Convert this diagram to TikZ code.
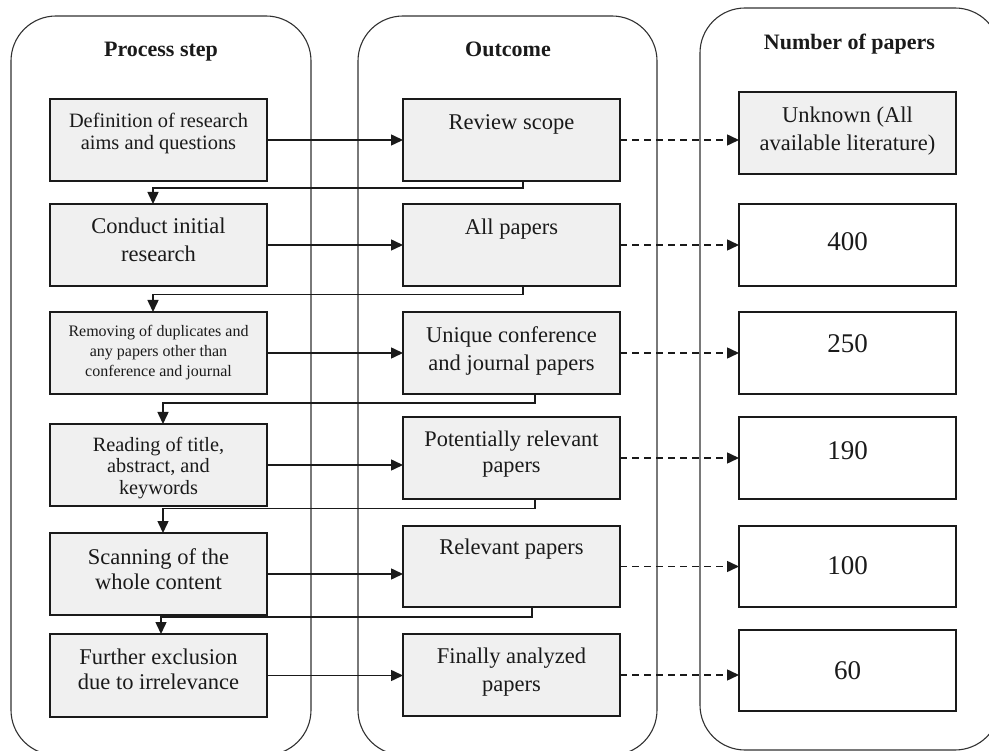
\documentclass[tikz,border=0pt]{standalone}
\usepackage{fontspec}
\setmainfont{Liberation Serif}
\usetikzlibrary{arrows.meta}
\definecolor{boxgray}{HTML}{F0F0F0}
\definecolor{ink}{HTML}{1A1A1A}
\begin{document}
\begin{tikzpicture}[x=1pt,y=-1pt,
  colbox/.style={draw=ink!90,line width=1.1pt,rounded corners=45pt,minimum width=#1,inner sep=0pt,outer sep=0pt,anchor=north west},
  bx/.style={draw=ink,line width=1.8pt,minimum width=217pt,minimum height=82pt,inner sep=0pt,outer sep=0pt,anchor=north west},
  gbx/.style={bx,fill=boxgray},
  wbx/.style={bx,fill=white},
  txt/.style={anchor=north,align=center,inner sep=0pt,text=ink},
  big/.style={txt,font=\fontsize{22.5}{28}\selectfont},
  num/.style={txt,font=\fontsize{27}{30}\selectfont},
  head/.style={anchor=base,inner sep=0pt,text=ink,font=\bfseries\fontsize{22}{26}\selectfont},
  arr/.style={draw=ink,line width=1.5pt,-{Triangle[length=12pt,width=11pt]}},
  darr/.style={arr,dash pattern=on 7pt off 5pt}]
\useasboundingbox (0,0) rectangle (989,751);
\clip (0,0) rectangle (989,751);
% columns
\node[colbox=300pt,minimum height=739pt] (c1) at (11,16) {};
\node[colbox=299pt,minimum height=739pt] (c2) at (358,16) {};
\node[colbox=300pt,minimum height=742pt] (c3) at (700,8) {};
\node[head] (h1) at (161,57) {Process step};
\node[head] (h2) at (508,57) {Outcome};
\node[head] (h3) at (849.5,50) {Number of papers};
% process boxes
\node[gbx] (p1) at (50,99) {};
\node[gbx] (p2) at (50,204) {};
\node[gbx] (p3) at (50,312) {};
\node[gbx] (p4) at (50,424) {};
\node[gbx] (p5) at (50,533) {};
\node[gbx,minimum height=83pt] (p6) at (50,634) {};
\node[txt,font=\fontsize{20.4}{22}\selectfont] (p1t) at ([yshift=-14pt]p1.north) {Definition of research\\aims and questions};
\node[big] (p2t) at ([yshift=-14pt]p2.north) {Conduct initial\\research};
\node[txt,font=\fontsize{16}{20}\selectfont] (p3t) at ([yshift=-13pt]p3.north) {Removing of duplicates and\\any papers other than\\conference and journal};
\node[txt,font=\fontsize{20.3}{21.5}\selectfont] (p4t) at ([yshift=-13pt]p4.north) {Reading of title,\\abstract, and\\keywords};
\node[txt,font=\fontsize{22.5}{25}\selectfont] (p5t) at ([yshift=-15pt]p5.north) {Scanning of the\\whole content};
\node[txt,font=\fontsize{22.5}{25}\selectfont] (p6t) at ([yshift=-15pt]p6.north) {Further exclusion\\due to irrelevance};
% outcome boxes
\node[gbx] (o1) at (403,99) {};
\node[gbx] (o2) at (403,204) {};
\node[gbx] (o3) at (403,312) {};
\node[gbx] (o4) at (403,417) {};
\node[gbx,minimum height=81pt] (o5) at (403,526) {};
\node[gbx] (o6) at (403,634) {};
\node[big] (o1t) at ([yshift=-15pt]o1.north) {Review scope};
\node[big] (o2t) at ([yshift=-15pt]o2.north) {All papers};
\node[big] (o3t) at ([yshift=-14pt]o3.north) {Unique conference\\and journal papers};
\node[txt,font=\fontsize{22.3}{26}\selectfont] (o4t) at ([yshift=-14pt]o4.north) {Potentially relevant\\papers};
\node[big] (o5t) at ([yshift=-13pt]o5.north) {Relevant papers};
\node[big] (o6t) at ([yshift=-14pt]o6.north) {Finally analyzed\\papers};
% number boxes
\node[gbx] (n1) at (739,92) {};
\node[wbx] (n2) at (739,204) {};
\node[wbx] (n3) at (739,312) {};
\node[wbx] (n4) at (739,417) {};
\node[wbx,minimum height=81pt] (n5) at (739,526) {};
\node[wbx,minimum height=81pt] (n6) at (739,630) {};
\node[big] (n1t) at ([yshift=-15pt]n1.north) {Unknown (All\\available literature)};
\node[num] (n2t) at ([yshift=-28pt]n2.north) {400};
\node[num] (n3t) at ([yshift=-22pt]n3.north) {250};
\node[num] (n4t) at ([yshift=-24pt]n4.north) {190};
\node[num] (n5t) at ([yshift=-30pt]n5.north) {100};
\node[num] (n6t) at ([yshift=-31pt]n6.north) {60};
% process -> outcome
\foreach \i in {1,...,6}{
  \draw[arr] (p\i.east) -- (p\i.east -| o\i.west);
  \draw[darr] (o\i.east) -- (o\i.east -| n\i.west);
}
% feedback connectors
\draw[arr] ([xshift=11.5pt]o1.south) -- ++(0,7) -| ([xshift=-5.5pt]p2.north);
\draw[arr] ([xshift=11.5pt]o2.south) -- ++(0,8.5) -| ([xshift=-5.5pt]p3.north);
\draw[arr] ([xshift=23.5pt]o3.south) -- ++(0,9) -| ([xshift=4.5pt]p4.north);
\draw[arr] ([xshift=23.5pt]o4.south) -- ++(0,9.5) -| ([xshift=4.5pt]p5.north);
\draw[arr] ([xshift=20.5pt]o5.south) -- ++(0,10) -| ([xshift=2.5pt]p6.north);
\end{tikzpicture}
\end{document}
